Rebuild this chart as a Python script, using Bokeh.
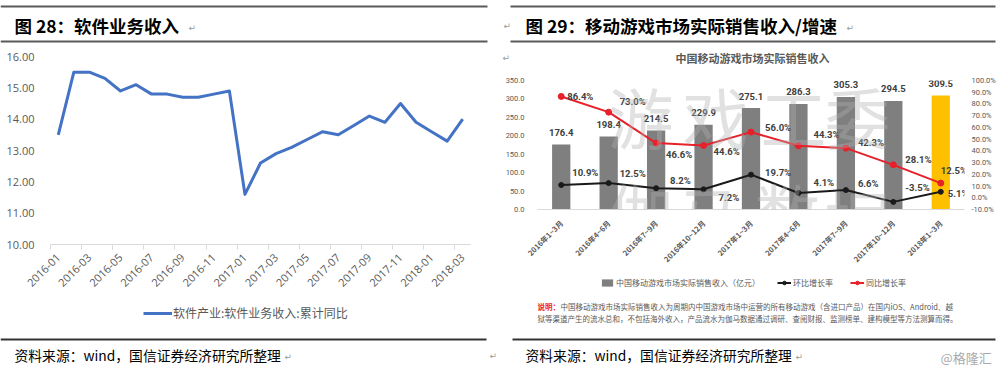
import math
from bokeh.plotting import figure
from bokeh.models import (Range1d, LinearAxis, FixedTicker, SingleIntervalTicker,
                          NumeralTickFormatter, PrintfTickFormatter, Label, BoxAnnotation,
                          Legend, LegendItem, ColumnDataSource, FactorRange)
from bokeh.layouts import row, column
from bokeh.core.properties import value
from bokeh.embed import file_html
from bokeh.resources import INLINE

# ---------------- data: left chart ----------------
months = ["2016-01", "2016-02", "2016-03", "2016-04", "2016-05", "2016-06", "2016-07",
          "2016-08", "2016-09", "2016-10", "2016-11", "2016-12", "2017-01", "2017-02",
          "2017-03", "2017-04", "2017-05", "2017-06", "2017-07", "2017-08", "2017-09",
          "2017-10", "2017-11", "2017-12", "2018-01", "2018-02", "2018-03"]
software_yoy = [13.5, 15.5, 15.5, 15.3, 14.9, 15.1, 14.8, 14.8, 14.7, 14.7, 14.8, 14.9,
                11.6, 12.6, 12.9, 13.1, 13.35, 13.6, 13.5, 13.8, 14.1, 13.9, 14.5, 13.9,
                13.6, 13.3, 14.0]
left_series_name = "软件产业:软件业务收入:累计同比"

# ---------------- data: right chart ----------------
quarters = ["2016年1~3月", "2016年4~6月", "2016年7~9月", "2016年10~12月", "2017年1~3月",
            "2017年4~6月", "2017年7~9月", "2017年10~12月", "2018年1~3月"]
sales = [176.4, 198.4, 214.5, 229.9, 275.1, 286.3, 305.3, 294.5, 309.5]
qoq = [10.9, 12.5, 8.2, 7.2, 19.7, 4.1, 6.6, -3.5, 5.1]
yoy = [86.4, 73.0, 46.6, 44.6, 56.0, 44.3, 42.3, 28.1, 12.5]
sales_name = "中国移动游戏市场实际销售收入（亿元）"
qoq_name = "环比增长率"
yoy_name = "同比增长率"

CJK = "Noto Sans CJK SC"
GRAY = "#595959"
BLUE = "#4472C4"
BAR_GRAY = "#7F7F7F"
GOLD = "#FFC000"
RED = "#E8202A"
BLACK = "#1A1A1A"
W = 500  # width of each column


def no_align(p):
    try:
        p.frame_align = False
    except Exception:
        pass


def blank(h):
    p = figure(width=W, height=h, x_range=Range1d(0, W), y_range=Range1d(h, 0),
               x_axis_location=None, y_axis_location=None, min_border=0,
               output_backend="svg", toolbar_location=None)
    p.outline_line_color = None
    p.grid.visible = False
    no_align(p)
    return p


def lab(p, text, x, y, size, color="#000000", bold=False, font=CJK, align="left",
        baseline="middle", alpha=1.0, units="data"):
    p.add_layout(Label(x=x, y=y, x_units=units, y_units=units, text=text,
                       text_font=font, text_font_size=f"{size}px", text_color=color,
                       text_font_style="bold" if bold else "normal", text_align=align,
                       text_baseline=baseline, text_alpha=alpha))


def rule(p, left, right, top, bottom, color="#5A5A5A"):
    p.add_layout(BoxAnnotation(left=left, right=right, top=top, bottom=bottom,
                               fill_color=color, fill_alpha=1.0, line_color=None))


def arrow(p, x, y):
    lab(p, "↵", x, y, 9, color="#9A9A9A", font="DejaVu Sans")


# =============== LEFT COLUMN (page x 0..500) ===============
# header: page y 0..48
headL = blank(48)
rule(headL, 0, 487, 5, 7)
lab(headL, "图 28：软件业务收入", 14, 25, 17.5, bold=True)
arrow(headL, 188, 27)
rule(headL, 0, 487, 40, 42)

# chart: page y 48..304
pL = figure(width=W, height=256, x_range=Range1d(-0.5, 26.5), y_range=Range1d(10, 16),
            output_backend="svg", toolbar_location=None,
            min_border_left=50, min_border_right=30, min_border_top=8, min_border_bottom=60)
no_align(pL)
pL.outline_line_color = None
pL.grid.visible = False

xa = pL.xaxis[0]
xa.ticker = FixedTicker(ticks=list(range(0, len(months), 2)),
                        minor_ticks=[i + 0.5 for i in range(-1, len(months) - 1, 2)])
xa.major_label_overrides = {i: months[i] for i in range(0, len(months), 2)}
xa.major_label_orientation = math.pi / 4
xa.axis_line_color = "#D9D9D9"
xa.major_tick_line_color = None
xa.minor_tick_line_color = "#D9D9D9"
xa.minor_tick_out = 5
xa.minor_tick_in = 0
xa.major_label_standoff = 5
xa.major_label_text_font = "Open Sans"
xa.major_label_text_font_size = "11px"
xa.major_label_text_color = GRAY

ya = pL.yaxis[0]
ya.ticker = FixedTicker(ticks=[10, 11, 12, 13, 14, 15, 16])
ya.formatter = NumeralTickFormatter(format="0.00")
ya.axis_line_color = None
ya.major_tick_line_color = None
ya.minor_tick_line_color = None
ya.major_label_standoff = 10
ya.major_label_text_font = "Open Sans"
ya.major_label_text_font_size = "11px"
ya.major_label_text_color = GRAY

pL.line(x=list(range(len(months))), y=software_yoy, line_color=BLUE,
        line_width=3, line_join="round")

# footer (legend + source): page y 304..375
footL = blank(71)
proxyL = footL.line(x=[-1000, -999], y=[-1000, -1000], line_color=BLUE, line_width=3)
legL = Legend(items=[LegendItem(label=left_series_name, renderers=[proxyL])],
              location=(143, 54), orientation="horizontal", padding=0, margin=0,
              glyph_width=29, glyph_height=16, label_height=16, label_standoff=1,
              label_text_font_size="12px", label_text_color=GRAY, label_text_font=CJK,
              border_line_color=None, background_fill_alpha=0)
footL.add_layout(legL)
rule(footL, 0, 486, 34, 36, color="#333333")
lab(footL, "资料来源：wind，国信证券经济研究所整理", 14, 50, 13.8)
arrow(footL, 284, 52)
arrow(footL, 489, 51)

colL = column(headL, pL, footL, spacing=0)

# =============== RIGHT COLUMN (page x 500..1000) ===============
# header: page y 0..64
headR = blank(64)
rule(headR, 10, 495, 5, 7)
arrow(headR, 3, 25)
lab(headR, "图 29：移动游戏市场实际销售收入/增速", 25, 25, 17.5, bold=True)
arrow(headR, 346, 27)
rule(headR, 10, 495, 40, 42)
arrow(headR, 2, 57)
lab(headR, "中国移动游戏市场实际销售收入", 252, 57, 11, color=GRAY, bold=True, align="center")

# chart: page y 64..272
pR = figure(width=W, height=208, x_range=FactorRange(*quarters), y_range=Range1d(0, 350),
            output_backend="svg", toolbar_location=None,
            min_border_left=37, min_border_right=36, min_border_top=16, min_border_bottom=63)
no_align(pR)
pR.outline_line_color = None
pR.grid.visible = False
pR.extra_y_ranges = {"pct": Range1d(-10, 100)}

# watermark
wm_chars = "游戏工委伽马数据"
wm_pos = [(103, 95), (178, 95), (256, 95), (320, 95), (103, -1), (173, -4), (250, -1), (320, -8)]
for ch, (wx, wy) in zip(wm_chars, wm_pos):
    lab(pR, ch, wx, wy, 66, color="#B0B0B0", align="center", alpha=0.38, units="screen")

bar_colors = [BAR_GRAY] * (len(quarters) - 1) + [GOLD]
src = ColumnDataSource(dict(
    q=quarters, sales=sales, sales_lbl=[f"{v:.1f}" for v in sales], color=bar_colors,
    qoq=qoq, qoq_lbl=[f"{v:.1f}%" for v in qoq],
    yoy=yoy, yoy_lbl=[f"{v:.1f}%" for v in yoy],
    qoq_dx=[11, 11, 14, 15, 14, 15, 12, 12, 7],
    qoq_dy=[-12, -10, -8, 8, -2, -10, -7, -14, 2],
    yoy_dx=[6, 11, 10, 10, 14, 15, 12, 12, 0],
    yoy_dy=[0, -11, 11, 6, -5, -11, -6, -5, -13],
))

pR.vbar(x="q", top="sales", width=0.385, fill_color="color", line_color=None, source=src)
pR.line(x="q", y="qoq", y_range_name="pct", line_color=BLACK, line_width=2, source=src)
pR.scatter(x="q", y="qoq", y_range_name="pct", marker="circle", size=5,
           fill_color=BLACK, line_color=BLACK, source=src)
pR.line(x="q", y="yoy", y_range_name="pct", line_color=RED, line_width=2, source=src)
pR.scatter(x="q", y="yoy", y_range_name="pct", marker="circle", size=6,
           fill_color=RED, line_color=RED, source=src)

pR.text(x="q", y="sales", text="sales_lbl", source=src, text_align="center",
        text_baseline="middle", y_offset=-12, text_font=value("Roboto"),
        text_font_size="9.5px", text_font_style="bold", text_color="#404040")
pR.text(x="q", y="yoy", text="yoy_lbl", source=src, y_range_name="pct", text_align="left",
        text_baseline="middle", x_offset="yoy_dx", y_offset="yoy_dy",
        text_font=value("Roboto"), text_font_size="9.5px", text_font_style="bold",
        text_color="#404040")
pR.text(x="q", y="qoq", text="qoq_lbl", source=src, y_range_name="pct", text_align="left",
        text_baseline="middle", x_offset="qoq_dx", y_offset="qoq_dy",
        text_font=value("Roboto"), text_font_size="9.5px", text_font_style="bold",
        text_color="#404040")

xr = pR.xaxis[0]
xr.axis_line_color = "#D9D9D9"
xr.major_tick_line_color = None
xr.minor_tick_line_color = None
xr.major_label_orientation = math.pi / 4
xr.major_label_standoff = 6
xr.major_label_text_font = CJK
xr.major_label_text_font_size = "7.5px"
xr.major_label_text_font_style = "bold"
xr.major_label_text_color = GRAY

yl = pR.yaxis[0]
yl.ticker = SingleIntervalTicker(interval=50)
yl.formatter = NumeralTickFormatter(format="0.0")
yl.axis_line_color = None
yl.major_tick_line_color = None
yl.minor_tick_line_color = None
yl.major_label_standoff = 7
yl.major_label_text_font = "Roboto"
yl.major_label_text_font_size = "7.5px"
yl.major_label_text_color = GRAY

yr = LinearAxis(y_range_name="pct", ticker=SingleIntervalTicker(interval=10),
                formatter=PrintfTickFormatter(format="%.1f%%"),
                axis_line_color=None, major_tick_line_color=None, minor_tick_line_color=None,
                major_label_standoff=1, major_label_text_font="Roboto",
                major_label_text_font_size="7.5px", major_label_text_color=GRAY)
pR.add_layout(yr, "right")

# footer (legend + note + source): page y 272..375
footR = blank(103)
pb = footR.vbar(x=[-1000], top=[-1000], width=1, fill_color=BAR_GRAY, line_color=None)
pq1 = footR.line(x=[-1000, -999], y=[-1000, -1000], line_color=BLACK, line_width=2)
pq2 = footR.scatter(x=[-1000], y=[-1000], marker="circle", size=5,
                    fill_color=BLACK, line_color=BLACK)
py1 = footR.line(x=[-1000, -999], y=[-1000, -1000], line_color=RED, line_width=2)
py2 = footR.scatter(x=[-1000], y=[-1000], marker="circle", size=5,
                    fill_color=RED, line_color=RED)
legR = Legend(items=[LegendItem(label=sales_name, renderers=[pb]),
                     LegendItem(label=qoq_name, renderers=[pq1, pq2]),
                     LegendItem(label=yoy_name, renderers=[py1, py2])],
              location=(100, 87), orientation="horizontal", padding=0, margin=0,
              spacing=17, glyph_width=14, glyph_height=9, label_height=11, label_standoff=2,
              label_text_font_size="8px", label_text_color=GRAY, label_text_font=CJK,
              border_line_color=None, background_fill_alpha=0)
footR.add_layout(legR)
lab(footR, "说明：", 37, 34, 7.5, color=RED, bold=True)
lab(footR, "中国移动游戏市场实际销售收入为周期内中国游戏市场中运营的所有移动游戏（含进口产品）在国内iOS、Android、越",
    60, 34, 7.5, color=GRAY)
lab(footR, "狱等渠道产生的流水总和，不包括海外收入，产品流水为伽马数据通过调研、查阅财报、监测榜单、建构模型等方法测算而得。",
    37, 46, 7.5, color=GRAY)
rule(footR, 12, 495, 66, 68, color="#333333")
lab(footR, "资料来源：wind，国信证券经济研究所整理", 25, 82, 13.8)
arrow(footR, 295, 84)
lab(footR, "@格隆汇", 440, 85, 13, color="#AAAAAA")

colR = column(headR, pR, footR, spacing=0)

layout = row(colL, colR, spacing=0)
open("out.html", "w").write(file_html(layout, INLINE))
